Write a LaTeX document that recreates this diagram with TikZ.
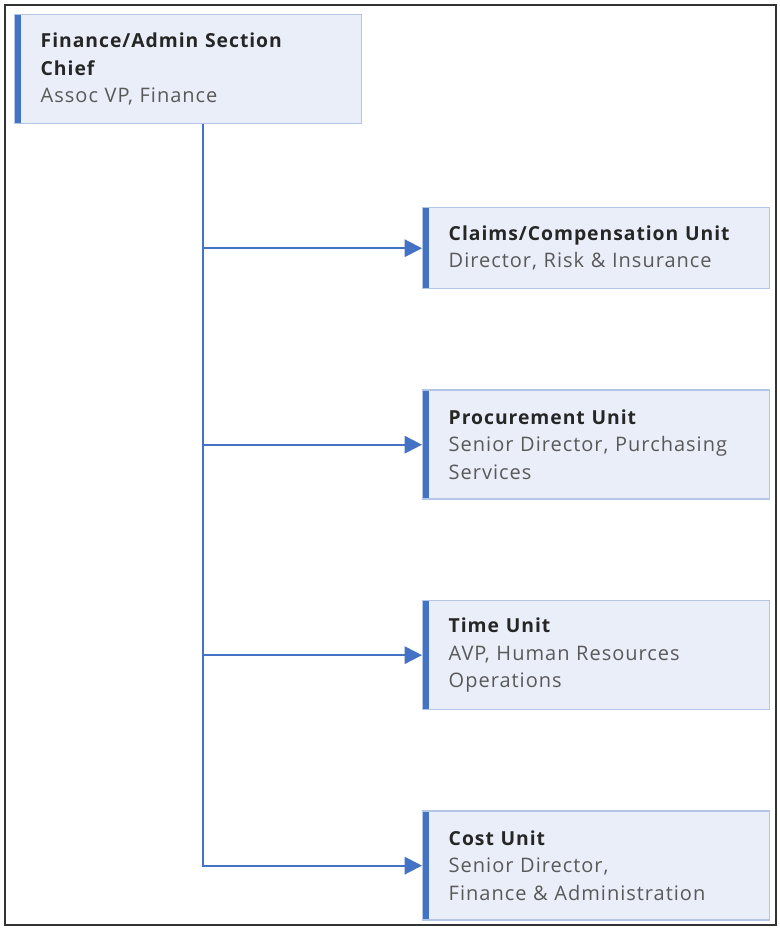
\documentclass[tikz,border=0pt]{standalone}
\usepackage{fontspec}
\setmainfont{Open Sans}[LetterSpace=5]
\usetikzlibrary{positioning,arrows.meta}
\definecolor{unitfill}{RGB}{233,238,248}
\definecolor{unitline}{RGB}{180,198,231}
\definecolor{unitbar}{RGB}{68,114,196}
\definecolor{titletext}{RGB}{38,38,38}
\definecolor{subtext}{RGB}{89,89,89}
\tikzset{node distance=75pt, auto,
  unit/.style={rectangle, draw=unitline, line width=1.1pt, fill=unitfill,
    minimum width=260.25pt, minimum height=60.75pt, text width=221.25pt,
    align=left, inner xsep=19.5pt, inner ysep=0pt, text=subtext,
    font=\fontsize{15}{20.5}\selectfont,
    path picture={\fill[unitbar] (path picture bounding box.south west)
      rectangle ([xshift=5pt]path picture bounding box.north west);}},
  tall/.style={minimum height=81.75pt},
  >={Triangle[length=13pt,width=13pt]}}
\newcommand{\utitle}[1]{{\fontsize{14.5}{20.5}\selectfont\bfseries\color{titletext}#1}}

\begin{document}
\begin{tikzpicture}[x=0.75pt, y=-0.75pt]

             \useasboundingbox (0,0) rectangle (780,928);
             \draw [black!80, line width=1.2pt] (5,5) rectangle (776,925);

             \node (Fin) [unit, tall, anchor=north west] at (14,14)
               {\utitle{Finance/Admin Section}\\ \utitle{Chief}\\ Assoc VP, Finance};

             \node (Claims) [unit, anchor=north west] at (422,207)
               {\utitle{Claims/Compensation Unit}\\ Director, Risk \& Insurance};
             \node (Proc) [unit, tall, below=of Claims]
               {\utitle{Procurement Unit}\\ Senior Director, Purchasing\\ Services};
             \node (Time) [unit, tall, below=of Proc]
               {\utitle{Time Unit}\\ AVP, Human Resources\\ Operations};
             \node (Cost) [unit, tall, below=of Time]
               {\utitle{Cost Unit}\\ Senior Director,\\ Finance \& Administration};

             \coordinate (Trunk) at ([xshift=11.25pt]Fin.south);

             \draw [->, unitbar, line width=1.5pt] (Trunk) |- (Claims.west);
             \draw [->, unitbar, line width=1.5pt] (Trunk) |- (Proc.west);
             \draw [->, unitbar, line width=1.5pt] (Trunk) |- (Time.west);
             \draw [->, unitbar, line width=1.5pt] (Trunk) |- (Cost.west);

          \end{tikzpicture}
\end{document}
